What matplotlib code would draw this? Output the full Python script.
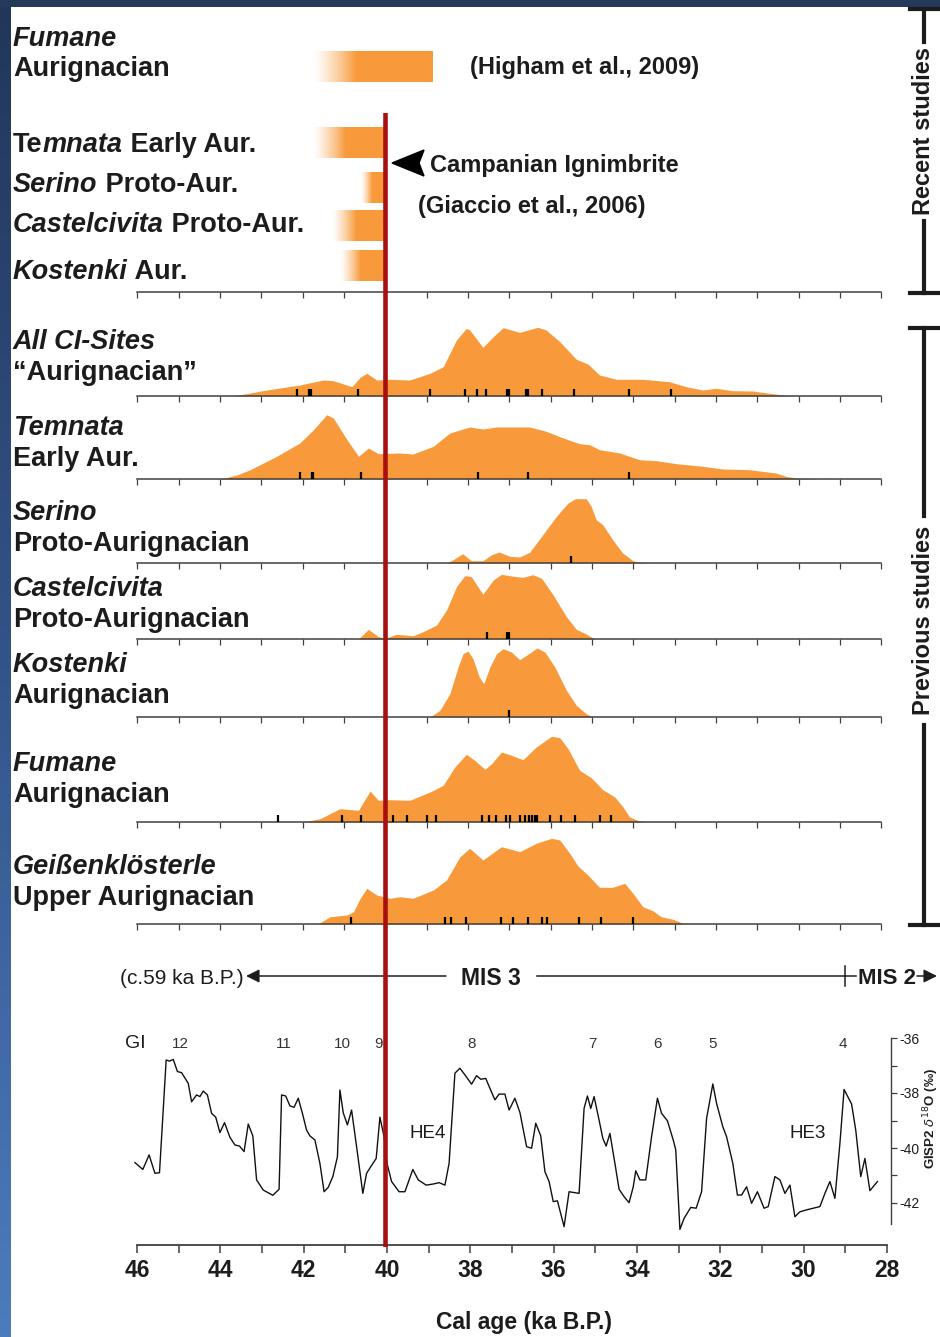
import numpy as np
import matplotlib
matplotlib.use("Agg")
import matplotlib.pyplot as plt
from matplotlib.colors import LinearSegmentedColormap, to_rgb
from matplotlib.lines import Line2D
from matplotlib.patches import Polygon, Rectangle

plt.rcParams["font.family"] = ["Liberation Sans", "DejaVu Sans"]
plt.rcParams["axes.unicode_minus"] = False

NARROW = ["Liberation Sans Narrow", "Liberation Sans", "DejaVu Sans"]
ORANGE = "#f89a3b"
RED = "#a8100f"
INK = "#1c1c1c"
AXC = "#404040"

# ---------------- recent studies (age ranges, ka cal BP) ----------------
recent_start = [41.75, 41.75, 40.60, 41.30, 41.10]
recent_end = [38.85, 40.00, 40.00, 40.00, 40.00]

# ---------------- previous studies: summed probability curves ----------------
prev_upper = ["All CI-Sites", "Temnata", "Serino", "Castelcivita", "Kostenki",
              "Fumane", "Geißenklösterle"]
prev_lower = ["“Aurignacian”", "Early Aur.", "Proto-Aurignacian",
              "Proto-Aurignacian", "Aurignacian", "Aurignacian",
              "Upper Aurignacian"]

allci_age = [43.68, 42.87, 42.07, 41.50, 41.26, 40.81, 40.61, 40.45, 40.21,
             39.89, 39.41, 38.92, 38.60, 38.28, 38.04, 37.96, 37.64, 37.39,
             37.15, 36.75, 36.31, 36.11, 35.78, 35.38, 35.10, 34.82, 34.41,
             33.77, 33.13, 32.72, 32.32, 32.00, 31.60, 31.11, 30.71, 30.31,
             30.10]
allci_prob = [0, 6, 11, 16, 15.3, 9.3, 18.7, 22.7, 16, 16.7, 16, 22.7, 29.3,
              56, 67.7, 66, 48.7, 59.3, 68.3, 63.7, 68.7, 66, 54.3, 36.7, 32,
              21, 16.7, 16.7, 14.3, 9.3, 6, 7.7, 5.3, 5, 2.7, 0.7, 0]
allci_dates = [42.14, 41.85, 41.80, 40.67, 38.92, 38.08, 37.78, 37.57, 37.05,
               37.01, 36.59, 36.55, 36.20, 35.44, 34.11, 33.10]

temnata_age = [43.99, 43.60, 43.27, 42.63, 42.07, 41.74, 41.42, 41.26, 40.93,
               40.65, 40.41, 40.17, 39.65, 39.33, 38.84, 38.44, 37.96, 37.64,
               37.31, 36.51, 36.11, 35.70, 35.30, 35.06, 34.82, 34.33, 33.85,
               33.45, 32.96, 32.32, 31.84, 31.19, 30.55, 30.31, 30.03, 29.50]
temnata_prob = [0, 4, 9.3, 22.7, 36, 49.3, 64.3, 61, 39.3, 22.7, 31, 25.3, 26,
                25, 32.7, 46, 52, 50, 52, 52, 47.7, 41, 35.3, 34.3, 29.3, 26,
                19.3, 18.3, 15.3, 12.7, 10, 9.3, 6, 2.7, 0.7, 0]
temnata_dates = [42.07, 41.78, 41.74, 40.60, 37.76, 36.56, 34.11]

serino_age = [38.52, 38.36, 38.13, 37.92, 37.64, 37.43, 37.25, 36.99, 36.75,
              36.51, 36.19, 35.86, 35.58, 35.40, 35.14, 35.02, 34.90, 34.74,
              34.50, 34.26, 34.01, 33.77, 33.45]
serino_prob = [0, 3.3, 9.3, 2.3, 2.3, 8.3, 11, 6.7, 6, 10.7, 28.3, 46.7, 60,
               64.3, 64.3, 56.7, 43.3, 38.3, 23.3, 10, 2.3, 0.3, 0]
serino_dates = [35.50]

castel_age = [40.65, 40.41, 40.17, 40.00, 39.73, 39.33, 39.09, 38.76, 38.52,
              38.28, 38.08, 37.92, 37.64, 37.39, 37.19, 36.95, 36.67, 36.43,
              36.22, 35.94, 35.62, 35.38, 35.14, 34.94]
castel_prob = [0, 9.7, 2.3, 0.7, 4.7, 3.3, 7.3, 14, 29, 52.3, 63.3, 62.3,
               44.7, 59, 64.7, 63, 61.7, 64.3, 60.7, 44, 22.3, 9.7, 5, 0]
castel_dates = [37.53, 37.05, 37.01]

kostenki_age = [38.92, 38.68, 38.44, 38.24, 38.12, 38.00, 37.88, 37.73,
                37.62, 37.47, 37.31, 37.15, 36.95, 36.75, 36.55, 36.33,
                36.14, 35.90, 35.62, 35.38, 35.14, 34.98]
kostenki_prob = [0, 6.7, 23.3, 50, 63.3, 66, 58.3, 40, 33.3, 50, 63.3, 68.3,
                 65, 57.3, 62.7, 69, 65, 50, 26.7, 11.7, 3.3, 0]
kostenki_dates = [37.01]

fumane_age = [41.98, 41.58, 41.10, 40.65, 40.37, 40.17, 39.89, 39.41, 38.92,
              38.60, 38.32, 38.04, 37.84, 37.59, 37.43, 37.19, 36.95, 36.67,
              36.35, 35.98, 35.78, 35.58, 35.30, 35.02, 34.74, 34.45, 34.25,
              34.09, 33.85, 33.65]
fumane_prob = [0, 3.3, 13.3, 11.7, 31, 21.7, 22.3, 21.7, 30, 36.7, 55, 67.7,
               61.7, 52.7, 58.3, 70, 66.7, 62.3, 75, 85.7, 84.3, 73.3, 51.7,
               44.3, 32.3, 25, 15, 5, 1, 0]
fumane_dates = [42.59, 41.06, 40.60, 39.81, 39.47, 38.99, 38.78, 37.67, 37.49,
                37.33, 37.09, 36.99, 36.75, 36.63, 36.52, 36.44, 36.39, 36.33,
                36.02, 35.74, 35.40, 34.80, 34.53]

geiss_age = [41.63, 41.34, 40.93, 40.77, 40.61, 40.45, 40.21, 39.89, 39.65,
             39.33, 38.84, 38.52, 38.20, 37.96, 37.64, 37.19, 36.75, 36.35,
             35.98, 35.78, 35.54, 35.34, 35.10, 34.82, 34.50, 34.21, 34.01,
             33.77, 33.53, 33.33, 33.04, 32.80, 32.64]
geiss_prob = [0, 7.3, 9, 12.3, 25.7, 35.7, 29, 25.7, 27.3, 25.7, 34, 44, 67,
              75.7, 64, 77.3, 72.3, 80.7, 85.7, 84, 70.7, 58, 49, 36.7, 36.7,
              40.7, 30.7, 17.3, 13.3, 7.3, 4.7, 0.7, 0]
geiss_dates = [40.84, 38.56, 38.42, 38.04, 37.21, 36.91, 36.56, 36.20, 36.09,
               35.32, 34.78, 34.00]

prev_age = [allci_age, temnata_age, serino_age, castel_age, kostenki_age,
            fumane_age, geiss_age]
prev_prob = [allci_prob, temnata_prob, serino_prob, castel_prob,
             kostenki_prob, fumane_prob, geiss_prob]
prev_dates = [allci_dates, temnata_dates, serino_dates, castel_dates,
              kostenki_dates, fumane_dates, geiss_dates]

# ---------------- GISP2 oxygen isotope record ----------------
gisp_age = [46.05, 45.86, 45.71, 45.57, 45.46, 45.30, 45.22, 45.13, 45.03,
            44.93, 44.77, 44.69, 44.57, 44.49, 44.41, 44.31, 44.21, 44.11,
            44.01, 43.90, 43.77, 43.65, 43.54, 43.43, 43.33, 43.22, 43.13,
            42.97, 42.74, 42.59, 42.53, 42.43, 42.33, 42.23, 42.13, 42.03,
            41.93, 41.85, 41.73, 41.61, 41.51, 41.41, 41.30, 41.19, 41.13,
            41.05, 40.95, 40.85, 40.73, 40.58, 40.49, 40.39, 40.26, 40.17,
            40.07, 40.00, 39.89, 39.71, 39.57, 39.38, 39.25, 39.06, 38.89,
            38.75, 38.61, 38.51, 38.37, 38.25, 38.11, 37.97, 37.85, 37.75,
            37.63, 37.53, 37.41, 37.31, 37.17, 37.07, 36.93, 36.81, 36.65,
            36.53, 36.43, 36.31, 36.21, 36.11, 36.01, 35.91, 35.75, 35.63,
            35.51, 35.39, 35.27, 35.19, 35.11, 35.03, 34.93, 34.82, 34.74,
            34.65, 34.53, 34.43, 34.31, 34.19, 34.09, 34.03, 33.93, 33.79,
            33.65, 33.51, 33.41, 33.27, 33.13, 33.07, 32.97, 32.87, 32.71,
            32.58, 32.45, 32.33, 32.18, 32.09, 31.94, 31.85, 31.70, 31.59,
            31.49, 31.37, 31.25, 31.11, 30.95, 30.85, 30.69, 30.57, 30.45,
            30.33, 30.21, 30.09, 29.93, 29.77, 29.61, 29.49, 29.37, 29.25,
            29.13, 29.03, 28.85, 28.75, 28.63, 28.53, 28.41, 28.23]
gisp_d18o = [-40.53, -40.78, -40.25, -40.92, -40.90, -36.80, -36.84, -36.78,
             -37.22, -37.26, -37.65, -38.32, -38.07, -38.13, -37.93, -38.07,
             -38.74, -38.88, -39.44, -39.08, -39.61, -39.89, -39.93, -40.13,
             -39.13, -39.56, -41.16, -41.53, -41.72, -41.50, -38.07, -38.11,
             -38.47, -38.52, -38.19, -38.74, -39.35, -39.56, -39.71, -40.56,
             -41.59, -41.43, -41.04, -40.32, -37.89, -38.72, -39.16, -38.62,
             -39.95, -41.65, -40.92, -40.68, -40.38, -38.88, -39.59, -40.56,
             -41.22, -41.59, -41.59, -40.78, -41.16, -41.35, -41.31, -41.26,
             -41.35, -40.56, -37.28, -37.10, -37.38, -37.68, -37.37, -37.50,
             -37.47, -37.83, -38.25, -38.04, -38.04, -38.62, -38.19, -38.71,
             -39.95, -40.01, -39.10, -39.56, -40.86, -41.22, -41.95, -41.92,
             -42.86, -41.59, -41.62, -41.65, -38.56, -38.11, -38.56, -38.13,
             -38.84, -39.65, -39.93, -39.47, -40.56, -41.50, -41.77, -41.99,
             -41.41, -40.83, -41.16, -41.16, -39.59, -38.19, -38.74, -39.01,
             -39.71, -40.07, -42.96, -42.56, -42.16, -42.19, -41.59, -38.92,
             -37.67, -38.38, -39.23, -39.59, -40.56, -41.71, -41.71, -41.41,
             -42.01, -41.59, -42.19, -42.13, -41.04, -41.16, -41.65, -41.35,
             -42.50, -42.32, -42.25, -42.19, -42.13, -41.65, -41.22, -41.83,
             -39.83, -37.87, -38.40, -39.35, -41.04, -40.38, -41.55, -41.22]

gi_numbers = ["12", "11", "10", "9", "8", "7", "6", "5", "4"]
gi_age = [44.95, 42.47, 41.07, 40.21, 37.98, 35.08, 33.50, 32.18, 29.06]
he_labels = ["HE4", "HE3"]
he_age = [39.02, 29.90]
ci_age = 40.0
mis_boundary = 29.0

# ---------------- layout (pixels) ----------------
W, H = 940, 1337
UX0, UX1 = 137.4, 881.3          # 46 and 28 ka on the upper panels
GX0, GX1 = 137.0, 887.0          # 46 and 28 ka on the GISP2 axis
recent_rows = [67, 143, 188, 226, 266]
prev_base = [396, 479, 563, 639, 717, 822, 924]
prev_label_base = [380, 466, 551, 627, 703, 802, 905]

fig = plt.figure(figsize=(W / 100, H / 100), dpi=100)
fig.patch.set_facecolor("white")
renderer = fig.canvas.get_renderer()


def box(x0, y0, x1, y1):
    return [x0 / W, 1 - y1 / H, (x1 - x0) / W, (y1 - y0) / H]


def fx(px):
    return px / W


def fy(py):
    return 1 - py / H


def site_label(py, parts, size=19.5):
    x = 13
    for s, italic in parts:
        t = fig.text(fx(x), fy(py), s, fontsize=size, fontweight="bold",
                     fontstyle="italic" if italic else "normal",
                     color=INK, ha="left", va="baseline")
        x += t.get_window_extent(renderer).width


def baseline_axis(ax):
    for side in ("top", "left", "right"):
        ax.spines[side].set_visible(False)
    ax.spines["bottom"].set_color(AXC)
    ax.spines["bottom"].set_linewidth(1.1)
    ax.set_xlim(46, 28)
    ax.set_xticks(np.arange(28, 47, 1))
    ax.set_xticklabels([])
    ax.set_yticks([])
    ax.tick_params(axis="x", direction="out", length=4, width=0.9, color=AXC)
    ax.patch.set_visible(False)


# background frame: navy band on top, blue strip on the left
bg = fig.add_axes([0, 0, 1, 1], zorder=-5)
strip = LinearSegmentedColormap.from_list("strip", ["#22365a", "#33548a", "#4c7cbd"])
bg.imshow(np.linspace(0, 1, 256).reshape(-1, 1), extent=(0, 11, H, 0),
          cmap=strip, aspect="auto")
bg.add_patch(Rectangle((0, 0), W, 7, color="#25395b", lw=0))
bg.set_xlim(0, W)
bg.set_ylim(H, 0)
bg.axis("off")

# ---------------- recent studies ----------------
ax_r = fig.add_axes(box(UX0, 20, UX1, 292))
rgb = to_rgb(ORANGE)
for start, end, yc in zip(recent_start, recent_end, recent_rows):
    cols = np.linspace(start, end, 300)
    fade = min(1.05, 0.45 * (start - end))
    img = np.ones((1, cols.size, 4))
    img[..., :3] = rgb
    img[0, :, 3] = np.clip((start - cols) / fade, 0, 1) ** 1.3
    ax_r.imshow(img, extent=(start, end, yc + 15.5, yc - 15.5),
                aspect="auto", interpolation="bilinear")
baseline_axis(ax_r)
ax_r.set_ylim(292, 20)

site_label(46, [("Fumane", True)])
site_label(76, [("Aurignacian", False)])
site_label(152, [("Te", False), ("mnata", True), (" Early Aur.", False)])
site_label(192, [("Serino", True), (" Proto-Aur.", False)])
site_label(232, [("Castelcivita", True), (" Proto-Aur.", False)])
site_label(279, [("Kostenki", True), (" Aur.", False)])

fig.text(fx(470), fy(74), "(Higham et al., 2009)", fontsize=17,
         fontweight="bold", color=INK, ha="left", va="baseline")
fig.text(fx(430), fy(172), "Campanian Ignimbrite", fontsize=17,
         fontweight="bold", color=INK, ha="left", va="baseline")
fig.text(fx(418), fy(213), "(Giaccio et al., 2006)", fontsize=17,
         fontweight="bold", color=INK, ha="left", va="baseline")
fig.add_artist(Polygon([(fx(392), fy(163)), (fx(424), fy(150)),
                        (fx(419), fy(163)), (fx(424), fy(176))],
                       closed=True, color="black", transform=fig.transFigure))

# ---------------- previous studies ----------------
for i, b in enumerate(prev_base):
    ax = fig.add_axes(box(UX0, b - 100, UX1, b))
    ax.fill_between(prev_age[i], prev_prob[i], color=ORANGE, lw=0, zorder=1)
    ax.vlines(prev_dates[i], 0, 7, color="black", lw=1.6, zorder=3)
    baseline_axis(ax)
    ax.set_ylim(0, 100)
    site_label(prev_label_base[i] - 31, [(prev_upper[i], True)])
    site_label(prev_label_base[i], [(prev_lower[i], False)])

# brackets on the right
def vline_fig(x, y0, y1, lw=3.0):
    fig.add_artist(Line2D([fx(x), fx(x)], [fy(y0), fy(y1)], lw=lw,
                          color=INK, transform=fig.transFigure))


def hline_fig(y, x0, x1, lw=3.0):
    fig.add_artist(Line2D([fx(x0), fx(x1)], [fy(y), fy(y)], lw=lw,
                          color=INK, transform=fig.transFigure))


hline_fig(9, 910, 938)
vline_fig(924, 9, 42)
vline_fig(924, 221, 293)
hline_fig(293, 910, 938)
fig.text(fx(924), fy(131), "Recent studies", rotation=90, fontsize=17,
         fontweight="bold", color=INK, ha="center", va="center")

hline_fig(328, 910, 938)
vline_fig(924, 328, 516)
vline_fig(924, 725, 925)
hline_fig(925, 910, 940)
fig.text(fx(924), fy(620), "Previous studies", rotation=90, fontsize=17,
         fontweight="bold", color=INK, ha="center", va="center")

# ---------------- marine isotope stages ----------------
ax_m = fig.add_axes(box(GX0, 956, GX1, 996))
ax_m.set_xlim(46, 28)
ax_m.set_ylim(0, 1)
ax_m.axis("off")


def px_age(px):
    return 46 - (px - GX0) * 18 / (GX1 - GX0)


arrow = dict(arrowstyle="-|>", color=INK, lw=1.1, mutation_scale=20,
             shrinkA=0, shrinkB=0)
ax_m.annotate("", xy=(px_age(246), 0.5), xytext=(px_age(446), 0.5),
              arrowprops=arrow, annotation_clip=False)
ax_m.plot([px_age(537), px_age(856)], [0.5, 0.5], color=INK, lw=1.1,
          clip_on=False)
ax_m.plot([mis_boundary, mis_boundary], [0.25, 0.75], color=INK, lw=1.1,
          clip_on=False)
ax_m.annotate("", xy=(px_age(937), 0.5), xytext=(px_age(917), 0.5),
              arrowprops=arrow, annotation_clip=False)
ax_m.text(px_age(244), 0.5, "(c.59 ka B.P.)", fontsize=15, family=NARROW,
          color=INK, ha="right", va="center_baseline", clip_on=False)
ax_m.text(px_age(491), 0.5, "MIS 3", fontsize=16.5, family=NARROW,
          fontweight="bold", color=INK, ha="center", va="center_baseline")
ax_m.text(px_age(858), 0.5, "MIS 2", fontsize=16, family=NARROW,
          fontweight="bold", color=INK, ha="left", va="center_baseline",
          clip_on=False)

# ---------------- GISP2 record ----------------
G_TOP, G_BOT = 1038, 1245
per_unit = 27.5
ax_g = fig.add_axes(box(GX0, G_TOP, GX1, G_BOT))
ax_g.patch.set_visible(False)
ax_g.plot(gisp_age, gisp_d18o, color="#111111", lw=1.0, clip_on=False)
ax_g.set_xlim(46, 28)
ax_g.set_ylim(-36 - (G_BOT - G_TOP) / per_unit, -36)
ax_g.spines["top"].set_visible(False)
ax_g.spines["left"].set_visible(False)
ax_g.spines["bottom"].set_color(AXC)
ax_g.spines["bottom"].set_linewidth(1.3)
ax_g.spines["right"].set_position(("outward", 3))
ax_g.spines["right"].set_bounds(-42.75, -36)
ax_g.spines["right"].set_color(AXC)
ax_g.spines["right"].set_linewidth(1.0)
ax_g.yaxis.tick_right()
ax_g.set_yticks([-36, -38, -40, -42])
ax_g.set_yticks([-37, -39, -41], minor=True)
ax_g.set_xticks(np.arange(28, 47, 2))
ax_g.set_xticks(np.arange(29, 46, 2), minor=True)
ax_g.tick_params(axis="x", which="both", direction="out", length=6,
                 width=1.1, color=AXC, pad=4)
ax_g.tick_params(axis="y", which="both", direction="out", length=4,
                 width=0.9, color=AXC, pad=2, labelsize=10, labelcolor=INK)
for lbl in ax_g.get_xticklabels():
    lbl.set_family(NARROW)
    lbl.set_fontweight("bold")
    lbl.set_fontsize(16.5)
    lbl.set_color(INK)

fig.text(fx(931), fy(1118), r"GISP2 $\delta^{18}$O (‰)", rotation=90,
         fontsize=9.5, fontweight="bold", color=INK, ha="center", va="center")
fig.text(fx(524), fy(1323), "Cal age (ka B.P.)", fontsize=16.5, family=NARROW,
         fontweight="bold", color=INK, ha="center", va="center")

gi_y = (G_BOT - 1044) / (G_BOT - G_TOP)
fig.text(fx(125), fy(1044), "GI", fontsize=14, color=INK, ha="left",
         va="center")
for n, a in zip(gi_numbers, gi_age):
    ax_g.text(a, gi_y, n, transform=ax_g.get_xaxis_transform(), fontsize=11,
              color="#333333", ha="center", va="center", clip_on=False)
he_y = (G_BOT - 1133) / (G_BOT - G_TOP)
for s, a in zip(he_labels, he_age):
    ax_g.text(a, he_y, s, transform=ax_g.get_xaxis_transform(), fontsize=13.5,
              color=INK, ha="center", va="center")

# Campanian Ignimbrite marker line across all panels
ax_o = fig.add_axes(box(UX0, 113, UX1, 1247), zorder=10)
ax_o.set_xlim(46, 28)
ax_o.set_ylim(0, 1)
ax_o.axis("off")
ax_o.axvline(ci_age, color=RED, lw=3.3)

fig.savefig("out.png", dpi=100)
